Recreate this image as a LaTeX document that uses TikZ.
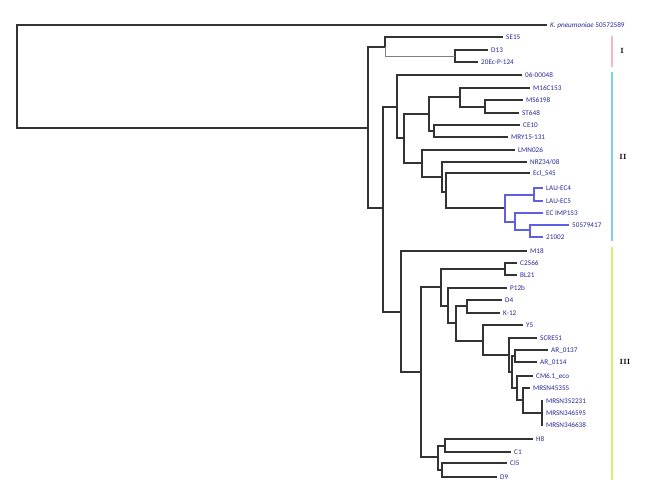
\documentclass[tikz,border=0pt]{standalone}
\usepackage{fontspec}
\newfontfamily\leaffont{Carlito}
\definecolor{leafblue}{RGB}{40,40,150}
\definecolor{cladeblue}{RGB}{95,95,225}
\definecolor{barpink}{RGB}{244,184,192}
\definecolor{barcyan}{RGB}{120,210,232}
\definecolor{barlime}{RGB}{212,238,122}

\begin{document}
\begin{tikzpicture}[x=1pt,y=-1pt]
    % --- STILI ---
    \tikzset{
        edge_style/.style={line width=1.1pt, draw=black!80},
        thin_edge/.style={line width=0.7pt, draw=black!50},
        blue_edge/.style={line width=1.1pt, draw=cladeblue},
        leaf_style/.style={anchor=west, inner xsep=3pt, inner ysep=0pt, text=leafblue,
            font=\leaffont\fontsize{7.2}{8}\selectfont, text height=4.8pt, text depth=0pt},
        bar_style/.style={line width=2.6pt},
        clade_label/.style={font=\bfseries\fontsize{7.5}{8}\selectfont, inner sep=1pt}
    }

    \useasboundingbox (0,0) rectangle (657,500);

    % x della barra dei cladi
    \def\B{612}

    % ===================================================
    % FOGLIE
    % ===================================================
    \node[leaf_style] (kpn) at (547,25) {\textit{K. pneumoniae} 50572589};

    \node[leaf_style] (se15) at (503,37) {SE15};
    \node[leaf_style] (d13) at (488,50) {D13};
    \node[leaf_style] (p124) at (478,62) {20Ec-P-124};

    \node[leaf_style] (l0048) at (522,75) {06-00048};
    \node[leaf_style] (m16) at (530,88) {M16C153};
    \node[leaf_style] (ms6198) at (523,100) {MS6198};
    \node[leaf_style] (st648) at (519,113) {ST648};
    \node[leaf_style] (ce10) at (520,125) {CE10};
    \node[leaf_style] (mry) at (508,137) {MRY15-131};
    \node[leaf_style] (lmn) at (515,150) {LMN026};
    \node[leaf_style] (nrz) at (527,162) {NRZ34/08};
    \node[leaf_style] (ecl) at (530,173) {Ecl\_545};
    \node[leaf_style] (lau4) at (543,188) {LAU-EC4};
    \node[leaf_style] (lau5) at (543,201) {LAU-EC5};
    \node[leaf_style] (ecimp) at (543,213) {EC IMP153};
    \node[leaf_style] (x579) at (569,225) {50579417};
    \node[leaf_style] (x21002) at (543,237) {21002};

    \node[leaf_style] (m18) at (527,251) {M18};
    \node[leaf_style] (c2566) at (517,263) {C2566};
    \node[leaf_style] (bl21) at (517,275) {BL21};
    \node[leaf_style] (p12b) at (507,288) {P12b};
    \node[leaf_style] (d4) at (502,300) {D4};
    \node[leaf_style] (k12) at (500,313) {K-12};
    \node[leaf_style] (y5) at (523,325) {Y5};
    \node[leaf_style] (scre) at (537,338) {SCRE51};
    \node[leaf_style] (ar137) at (548,350) {AR\_0137};
    \node[leaf_style] (ar114) at (537,362) {AR\_0114};
    \node[leaf_style] (cm6) at (533,376) {CM6.1\_eco};
    \node[leaf_style] (mrsn45) at (530,388) {MRSN45355};
    \node[leaf_style] (mrsn352) at (543,401) {MRSN352231};
    \node[leaf_style] (mrsn595) at (543,413) {MRSN346595};
    \node[leaf_style] (mrsn638) at (543,425) {MRSN346638};
    \node[leaf_style] (h8) at (533,439) {H8};
    \node[leaf_style] (c1) at (511,452) {C1};
    \node[leaf_style] (ci5) at (507,463) {CI5};
    \node[leaf_style] (d9) at (497,477) {D9};

    % ===================================================
    % NODI INTERNI
    % ===================================================
    \coordinate (root) at (17,76.5);
    \coordinate (nA) at (368,128);
    \coordinate (nI) at (385,47);
    \coordinate (nI2) at (455,56);
    \coordinate (nB) at (383,208);
    \coordinate (nII) at (397,107);
    \coordinate (nD) at (404,138);
    \coordinate (nE) at (429,114);
    \coordinate (nF) at (460,97);
    \coordinate (nG) at (485,107);
    \coordinate (nE2) at (434,131);
    \coordinate (nH) at (422,163);
    \coordinate (nI3) at (442,177);
    \coordinate (nJ) at (446,192);
    \coordinate (nK) at (505,208);
    \coordinate (nL) at (534,195);
    \coordinate (nM) at (515,222);
    \coordinate (nN) at (530,230);
    \coordinate (nIII) at (401,312);
    \coordinate (nP) at (421,372);
    \coordinate (nQ) at (441,287);
    \coordinate (nR) at (505,269);
    \coordinate (nS) at (448,306);
    \coordinate (nT) at (456,323);
    \coordinate (nU) at (467,306);
    \coordinate (nV) at (483,341);
    \coordinate (nW) at (509,355);
    \coordinate (nX) at (512,372);
    \coordinate (nY) at (515,356);
    \coordinate (nZ) at (517,388);
    \coordinate (nZ2) at (523,400);
    \coordinate (nPoly) at (542,413);
    \coordinate (nAA) at (438,457);
    \coordinate (nAB) at (445,446);
    \coordinate (nAC) at (442,470);

    % ===================================================
    % RAMI
    % ===================================================
    \foreach \p/\c in {
        root/kpn, root/nA, nA/nI, nA/nB, nI/se15, nI2/d13, nI2/p124,
        nB/nII, nB/nIII, nII/l0048, nII/nD, nD/nE, nD/nH, nE/nF, nE/nE2,
        nF/m16, nF/nG, nG/ms6198, nG/st648, nE2/ce10, nE2/mry,
        nH/lmn, nH/nI3, nI3/nrz, nI3/nJ, nJ/ecl, nJ/nK,
        nIII/m18, nIII/nP, nP/nQ, nP/nAA, nQ/nR, nQ/nS, nR/c2566, nR/bl21,
        nS/p12b, nS/nT, nT/nU, nT/nV, nU/d4, nU/k12, nV/y5, nV/nW,
        nW/scre, nW/nX, nX/nY, nX/nZ, nY/ar137, nY/ar114, nZ/cm6, nZ/nZ2,
        nZ2/mrsn45, nZ2/nPoly, nPoly/mrsn352, nPoly/mrsn595, nPoly/mrsn638,
        nAA/nAB, nAA/nAC, nAB/h8, nAB/c1, nAC/ci5, nAC/d9%
    } {
        \draw[edge_style] (\p) |- (\c);
    }
    \draw[thin_edge] (nI) |- (nI2);

    % clado blu
    \foreach \p/\c in {nK/nL, nK/nM, nL/lau4, nL/lau5, nM/ecimp, nM/nN, nN/x579, nN/x21002} {
        \draw[blue_edge] (\p) |- (\c);
    }

    % ===================================================
    % BARRE DEI CLADI
    % ===================================================
    \draw[bar_style, barpink] (\B,36) -- (\B,67);
    \draw[bar_style, barcyan] (\B,72) -- (\B,241);
    \draw[bar_style, barlime] (\B,247) -- (\B,480);

    \node[clade_label] (labI) at (622,51) {I};
    \node[clade_label] (labII) at (623,157) {II};
    \node[clade_label] (labIII) at (625,362) {III};

\end{tikzpicture}
\end{document}
